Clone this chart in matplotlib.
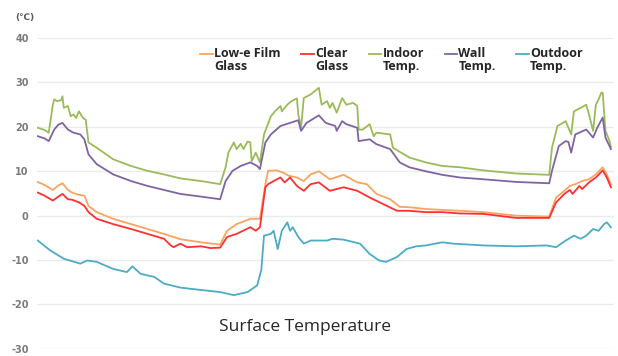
import matplotlib
matplotlib.use("Agg")
import matplotlib.pyplot as plt
import numpy as np

# ---- data (time in hours, temperature in degC) ----
t_indoor = [0.0, 0.5, 0.8, 1.1, 1.2, 1.4, 1.7, 1.8, 1.9, 2.2, 2.4, 2.6, 2.8, 3.0, 3.3, 3.5, 3.7, 4.3,
            5.5, 6.8, 8.0, 9.2, 10.4, 11.9, 13.3, 13.7, 13.9, 14.3, 14.5, 14.8, 15.0, 15.3, 15.5, 15.6,
            15.9, 16.2, 16.5, 17.0, 17.3, 17.7, 17.8, 18.2, 18.5, 18.9, 19.0, 19.2, 19.4, 19.9, 20.5,
            20.7, 21.1, 21.3, 21.5, 21.8, 22.2, 22.5, 23.0, 23.3, 23.4, 23.7, 24.2, 24.5, 24.7, 25.7,
            25.9, 27.1, 28.3, 29.5, 30.8, 32.5, 34.9, 37.3, 37.5, 37.9, 38.3, 38.5, 38.9, 39.1, 39.6,
            40.0, 40.2, 40.5, 40.7, 40.9, 41.1, 41.2, 41.4, 41.7, 41.8]
indoor = [19.8, 19.3, 18.7, 25.0, 26.2, 25.8, 26.0, 26.9, 24.3, 24.7, 22.4, 22.8, 22.0, 23.5, 22.0, 21.6,
          16.5, 15.3, 12.7, 11.2, 10.1, 9.3, 8.4, 7.8, 7.1, 10.9, 14.2, 16.5, 15.0, 16.2, 15.0, 16.7,
          16.5, 12.3, 14.2, 12.0, 18.3, 22.4, 23.5, 24.7, 23.5, 25.0, 25.8, 26.4, 22.8, 19.8, 26.5,
          27.3, 28.8, 25.0, 25.8, 24.3, 25.4, 23.2, 26.5, 25.0, 25.4, 24.7, 19.4, 19.4, 20.6, 17.9,
          18.7, 18.3, 15.3, 13.1, 12.0, 11.2, 10.9, 10.2, 9.5, 9.2, 15.3, 20.2, 20.9, 21.3, 18.3,
          23.5, 24.3, 25.0, 22.8, 19.1, 25.0, 26.2, 27.7, 27.7, 19.1, 16.8, 15.5]

t_wall = [0.0, 0.5, 0.8, 1.2, 1.5, 1.8, 2.2, 2.6, 3.1, 3.4, 3.7, 4.3, 5.5, 6.8, 8.0, 9.2, 10.4, 11.9,
          13.3, 13.7, 14.2, 14.8, 15.5, 16.0, 16.2, 16.6, 17.0, 17.7, 18.4, 19.0, 19.2, 19.6, 20.5,
          21.0, 21.7, 21.8, 22.2, 22.5, 23.3, 23.4, 24.2, 24.7, 25.7, 26.4, 27.1, 28.3, 29.5, 30.8,
          32.5, 34.9, 37.3, 37.5, 38.0, 38.5, 38.7, 38.9, 39.2, 40.0, 40.5, 40.8, 41.2, 41.4, 41.8]
wall = [17.9, 17.4, 16.8, 19.4, 20.5, 20.9, 19.4, 18.7, 18.3, 17.2, 13.8, 11.6, 9.3, 7.8, 6.7, 5.8,
        4.9, 4.3, 3.7, 7.8, 10.1, 11.2, 12.0, 11.2, 10.5, 16.5, 18.3, 20.2, 20.9, 21.5, 19.1, 20.9,
        22.6, 20.9, 20.2, 19.1, 21.3, 20.6, 19.8, 16.8, 17.2, 16.1, 15.0, 12.0, 10.9, 10.0, 9.2,
        8.6, 8.2, 7.6, 7.3, 10.1, 15.7, 16.8, 16.6, 14.2, 18.3, 19.4, 17.6, 19.8, 22.1, 17.6, 15.0]

t_lowe = [0.0, 0.5, 1.1, 1.5, 1.8, 2.2, 2.5, 3.0, 3.4, 3.7, 4.3, 5.5, 6.8, 8.0, 9.2, 10.4, 11.9, 13.3,
          13.8, 14.5, 15.5, 16.2, 16.6, 16.8, 17.4, 17.9, 18.3, 18.9, 19.4, 19.9, 20.5, 21.3, 22.3,
          23.3, 24.0, 24.7, 25.7, 26.4, 27.1, 28.3, 29.5, 30.8, 32.5, 34.9, 37.3, 37.8, 38.4, 38.8,
          39.2, 39.7, 40.2, 40.7, 41.2, 41.5, 41.8]
lowe = [7.6, 6.9, 5.8, 6.8, 7.3, 5.8, 5.2, 4.7, 4.5, 2.2, 0.8, -0.7, -1.9, -3.0, -4.1, -5.3, -6.0, -6.5,
        -3.4, -1.9, -0.7, -0.7, 7.1, 10.1, 10.2, 9.7, 9.0, 8.6, 7.8, 9.3, 10.0, 8.2, 9.2, 7.5, 7.1,
        4.9, 3.7, 2.0, 1.9, 1.5, 1.3, 1.1, 0.8, 0.0, -0.2, 4.1, 5.6, 6.7, 7.1, 7.8, 8.2, 9.3, 10.9,
        9.3, 7.1]

t_clear = [0.0, 0.5, 1.1, 1.5, 1.8, 2.2, 2.5, 3.0, 3.4, 3.7, 4.3, 5.5, 6.8, 8.0, 9.2, 9.7, 9.9, 10.4,
           10.9, 11.9, 12.6, 13.3, 13.8, 14.5, 15.5, 15.9, 16.2, 16.6, 16.8, 17.2, 17.7, 18.0, 18.4,
           18.9, 19.4, 19.9, 20.5, 21.3, 22.3, 23.3, 24.2, 25.2, 26.2, 27.1, 28.3, 29.5, 30.8, 32.5,
           34.9, 37.3, 37.8, 38.4, 38.8, 39.0, 39.5, 39.7, 40.2, 40.7, 41.2, 41.5, 41.8]
clear = [5.2, 4.5, 3.4, 4.3, 4.9, 3.7, 3.6, 3.0, 2.2, 0.8, -0.7, -1.9, -3.0, -4.1, -5.2, -6.7, -7.1,
         -6.3, -7.1, -6.9, -7.3, -7.2, -4.8, -4.1, -2.6, -3.4, -2.6, 6.4, 7.1, 7.8, 8.6, 7.5, 8.6,
         6.7, 5.6, 7.1, 7.5, 5.6, 6.4, 5.6, 4.1, 2.6, 1.1, 1.1, 0.8, 0.8, 0.5, 0.4, -0.5, -0.5, 3.0,
         4.9, 5.8, 4.9, 6.7, 6.0, 7.5, 8.6, 10.2, 8.6, 6.4]

t_outdoor = [0.0, 0.9, 1.9, 3.1, 3.6, 4.3, 5.5, 6.5, 6.9, 7.5, 8.5, 9.2, 10.4, 12.1, 13.3, 14.3, 15.3,
             16.0, 16.3, 16.5, 17.0, 17.2, 17.5, 17.8, 18.2, 18.4, 18.6, 19.0, 19.4, 19.9, 21.1,
             21.5, 22.3, 23.5, 24.2, 24.9, 25.4, 26.2, 26.9, 27.6, 28.3, 29.5, 30.3, 32.5, 34.9,
             37.1, 37.8, 38.5, 39.1, 39.6, 40.0, 40.5, 40.9, 41.3, 41.5, 41.8]
outdoor = [-5.6, -7.8, -9.7, -10.8, -10.1, -10.4, -12.0, -12.7, -11.4, -13.1, -13.8, -15.3, -16.2,
           -16.8, -17.2, -17.9, -17.2, -15.7, -12.3, -4.5, -4.1, -3.4, -7.5, -3.4, -1.5, -3.4, -2.6,
           -4.8, -6.3, -5.6, -5.6, -5.2, -5.4, -6.3, -8.6, -10.1, -10.4, -9.3, -7.5, -6.9, -6.7,
           -6.0, -6.3, -6.7, -6.9, -6.7, -7.1, -5.6, -4.5, -5.2, -4.5, -3.0, -3.4, -1.9, -1.5, -2.6]

labels = ["Low-e Film\nGlass", "Clear\nGlass", "Indoor\nTemp.", "Wall\nTemp.", "Outdoor\nTemp."]
y_ticks = [-30, -20, -10, 0, 10, 20, 30, 40]
title = "Surface Temperature"
unit = "(\u2103)"

colors = ["#F9A460", "#FF3030", "#9BBB59", "#8064A2", "#4BACC6"]

fig = plt.figure(figsize=(6.18, 3.56), dpi=100)
ax = fig.add_axes([0.06, 0.02, 0.933, 0.873])

series = [(t_lowe, lowe), (t_clear, clear), (t_indoor, indoor), (t_wall, wall), (t_outdoor, outdoor)]
for (tx, ty), c, lab in zip(series, colors, labels):
    ax.plot(tx, ty, color=c, lw=1.3, label=lab, solid_joinstyle="round")

ax.set_xlim(-0.05, 42.0)
ax.set_ylim(-30, 40)
ax.set_yticks(y_ticks)
ax.set_yticklabels([str(v) for v in y_ticks])
ax.set_xticks([])
ax.grid(axis="y", color="#ebebeb", lw=1.0)
ax.set_axisbelow(True)
for s in ax.spines.values():
    s.set_visible(False)
ax.tick_params(axis="y", length=0, pad=6, labelsize=7, labelcolor="#7a7a7a")
for lbl in ax.get_yticklabels():
    lbl.set_fontweight("bold")

fig.text(0.024, 0.952, unit, fontsize=6.5, color="#595959", fontweight="bold", va="center", ha="left")

ax.text(0.465, 0.071, title, transform=ax.transAxes, fontsize=12.5, family="Open Sans",
        color="#262626", ha="center", va="center")

leg = ax.legend(loc="upper center", bbox_to_anchor=(0.615, 0.99), ncol=5, frameon=False,
                handlelength=1.0, handletextpad=0.1, columnspacing=1.65, borderpad=0,
                prop={"family": "Open Sans", "weight": "bold", "size": 9})
for t in leg.get_texts():
    t.set_color("#262626")
    t.set_linespacing(1.0)
fig.canvas.draw()
shift = 9 * 1.2 / 2
for ln in leg.get_lines():
    ln.set_ydata(np.asarray(ln.get_ydata()) + shift)

fig.savefig("out.png", dpi=100)
